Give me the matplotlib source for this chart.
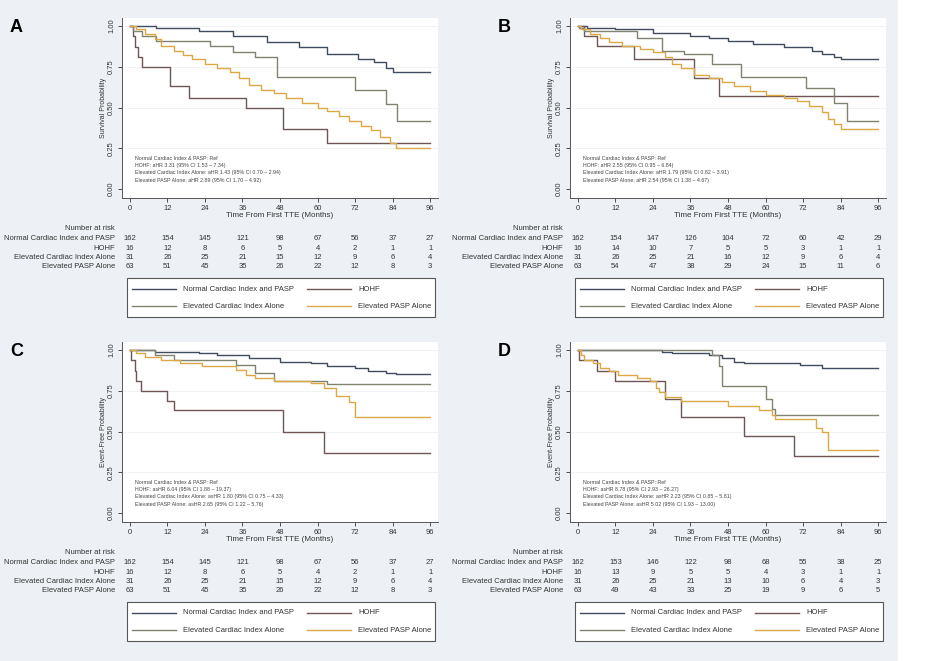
import numpy as np
import matplotlib.pyplot as plt
from matplotlib.lines import Line2D
from matplotlib.patches import Rectangle
from matplotlib.transforms import blended_transform_factory

plt.rcParams['font.family'] = ['Liberation Sans', 'DejaVu Sans']

W, H = 925, 661

groups = ["Normal Cardiac Index and PASP", "HOHF", "Elevated Cardiac Index Alone", "Elevated PASP Alone"]
colors = ["#3f4b5e", "#6f5656", "#80836f", "#dba843"]
times = [0, 12, 24, 36, 48, 60, 72, 84, 96]

# step curves: (time, probability) change points
curves_A = [
    [(0, 1), (8.5, .99), (22, .97), (33, .94), (44, .90), (54, .87), (63, .83), (73, .80), (78, .78), (82, .74), (84, .72), (96, .72)],
    [(0, 1), (1, .94), (1.5, .87), (2.7, .81), (4, .75), (13, .63), (19, .56), (37, .50), (49, .37), (63, .28), (96, .28)],
    [(0, 1), (1, .97), (4, .94), (8.5, .91), (25.5, .88), (33, .84), (40, .81), (47, .69), (72, .61), (82, .52), (85.5, .42), (96, .42)],
    [(0, 1), (2, .98), (5, .95), (8, .92), (10, .88), (14, .85), (17, .82), (20, .80), (24, .77), (28, .74), (32, .72), (35, .68),
     (38, .64), (42, .61), (46, .59), (50, .56), (55, .53), (60, .50), (63, .48), (67, .45), (70, .42), (74, .39), (77, .36),
     (80, .32), (83, .28), (85, .25), (96, .25)],
]
curves_B = [
    [(0, 1), (3, .99), (12, .98), (24, .96), (36, .94), (42, .93), (48, .91), (56, .89), (66, .87), (75, .85), (78, .83), (82, .81), (84, .80), (96, .80)],
    [(0, 1), (2, .94), (6, .88), (18, .80), (37, .68), (45, .57), (96, .57)],
    [(0, 1), (0.5, .99), (2, .97), (19, .93), (27, .85), (34, .83), (43, .77), (52, .69), (73, .62), (82, .53), (86, .42), (96, .42)],
    [(0, 1), (1, .98), (4, .95), (7, .93), (10, .90), (14, .88), (20, .86), (24, .84), (28, .81), (30, .77), (33, .74), (37, .70),
     (42, .68), (46, .66), (50, .63), (55, .60), (60, .58), (66, .56), (70, .54), (74, .51), (78, .47), (80, .43), (82, .40),
     (84, .37), (96, .37)],
]
curves_C = [
    [(0, 1), (8, .99), (22, .98), (28, .97), (38, .95), (48, .93), (58, .92), (63, .90), (72, .89), (76, .87), (82, .86), (85, .855), (96, .855)],
    [(0, 1), (0.5, .94), (1.5, .87), (2, .81), (3.5, .75), (12, .69), (14, .63), (49, .50), (62, .37), (96, .37)],
    [(0, 1), (8, .97), (14, .94), (34, .91), (40, .86), (46, .81), (63, .79), (96, .79)],
    [(0, 1), (2, .98), (5, .96), (10, .94), (16, .92), (23, .90), (34, .88), (37, .85), (40, .83), (46, .81), (58, .80), (62, .77),
     (66, .72), (70, .68), (72, .59), (96, .59)],
]
curves_D = [
    [(0, 1), (27, .99), (30, .98), (42, .97), (46, .95), (50, .93), (53, .92), (71, .91), (78, .89), (96, .89)],
    [(0, 1), (0.5, .94), (6, .87), (12, .81), (28, .70), (33, .59), (53, .47), (69, .35), (96, .35)],
    [(0, 1), (43, .97), (45, .90), (46, .78), (60, .70), (62, .64), (63, .60), (96, .60)],
    [(0, 1), (1, .97), (2, .94), (5, .92), (7, .89), (10, .87), (13, .85), (19, .83), (23, .81), (25, .77), (26, .74), (28, .71),
     (33, .69), (48, .66), (58, .63), (62, .60), (63, .58), (76, .52), (78, .50), (80, .39), (96, .39)],
]

risk_A = [[162, 154, 145, 121, 98, 67, 56, 37, 27], [16, 12, 8, 6, 5, 4, 2, 1, 1],
          [31, 26, 25, 21, 15, 12, 9, 6, 4], [63, 51, 45, 35, 26, 22, 12, 8, 3]]
risk_B = [[162, 154, 147, 126, 104, 72, 60, 42, 29], [16, 14, 10, 7, 5, 5, 3, 1, 1],
          [31, 26, 25, 21, 16, 12, 9, 6, 4], [63, 54, 47, 38, 29, 24, 15, 11, 6]]
risk_C = risk_A
risk_D = [[162, 153, 146, 122, 98, 68, 55, 38, 25], [16, 13, 9, 5, 5, 4, 3, 1, 1],
          [31, 26, 25, 21, 13, 10, 6, 4, 3], [63, 49, 43, 33, 25, 19, 9, 6, 5]]

notes_A = ["Normal Cardiac Index & PASP: Ref", "HOHF: aHR 3.31 (95% CI 1.53 – 7.34)",
           "Elevated Cardiac Index Alone: aHR 1.43 (95% CI 0.70 – 2.94)", "Elevated PASP Alone: aHR 2.89 (95% CI 1.70 – 4.92)"]
notes_B = ["Normal Cardiac Index & PASP: Ref", "HOHF: aHR 2.55 (95% CI 0.95 – 6.84)",
           "Elevated Cardiac Index Alone: aHR 1.79 (95% CI 0.82 – 3.91)", "Elevated PASP Alone: aHR 2.54 (95% CI 1.38 – 4.67)"]
notes_C = ["Normal Cardiac Index & PASP: Ref", "HOHF: asHR 6.04 (95% CI 1.88 – 19.37)",
           "Elevated Cardiac Index Alone: asHR 1.80 (95% CI 0.75 – 4.33)", "Elevated PASP Alone: asHR 2.65 (95% CI 1.22 – 5.76)"]
notes_D = ["Normal Cardiac Index & PASP: Ref", "HOHF: asHR 8.78 (95% CI 2.93 – 26.27)",
           "Elevated Cardiac Index Alone: asHR 2.23 (95% CI 0.85 – 5.81)", "Elevated PASP Alone: asHR 5.02 (95% CI 1.93 – 13.00)"]

fig = plt.figure(figsize=(W / 100, H / 100), dpi=100)
fig.patch.set_facecolor("#edf1f5")
fig.patches.append(Rectangle((898 / W, 0), 1, 1, transform=fig.transFigure, color="white", zorder=-1))


def fy(y):
    return 1 - y / H


def panel(letter, x0, y0, curves, risk, notes, ylabel, letter_x):
    # axes box in pixel coords
    ax = fig.add_axes([x0 / W, fy(y0 + 180), 316 / W, 180 / H])
    ax.set_facecolor("white")
    for i, c in enumerate(curves):
        t = [p[0] for p in c]
        s = [p[1] for p in c]
        ax.step(t, s, where="post", color=colors[i], lw=1.0)
    ax.set_xlim(-2.5, 98.5)
    ax.set_ylim(-0.055, 1.05)
    for g in [0.25, 0.5, 0.75, 1.0]:
        ax.axhline(g, color="#eef0f2", lw=0.6, zorder=0)
    ax.set_xticks(times)
    ax.set_yticks([0, .25, .5, .75, 1.0])
    ax.set_yticklabels(["0.00", "0.25", "0.50", "0.75", "1.00"], rotation=90, va="center")
    ax.tick_params(labelsize=5.5, length=3, width=0.6, colors="#333333", pad=2)
    for sp in ["top", "right"]:
        ax.spines[sp].set_visible(False)
    for sp in ["left", "bottom"]:
        ax.spines[sp].set_color("#555555")
        ax.spines[sp].set_linewidth(0.7)
    ax.set_xlabel("Time From First TTE (Months)", fontsize=5.8, labelpad=0, color="#333333")
    ax.set_ylabel(ylabel, fontsize=5, labelpad=1, color="#333333")
    for k, n in enumerate(notes):
        ax.text(1.5, 0.19 - k * 0.045, n, fontsize=3.8, color="#444444", va="center")
    fig.text(letter_x / W, fy(y0 + 10), letter, fontsize=13, fontweight="bold", va="center")

    tr = blended_transform_factory(ax.transData, fig.transFigure)
    base = y0 + 210
    fig.text((x0 - 7) / W, fy(base), "Number at risk", fontsize=5.5, ha="right", va="center", color="#333333")
    for r in range(4):
        yy = fy(base + 11 + r * 9.3)
        fig.text((x0 - 7) / W, yy, groups[r], fontsize=5.5, ha="right", va="center", color="#333333")
        for t, v in zip(times, risk[r]):
            ax.text(t, yy, str(v), transform=tr, fontsize=5.5, ha="center", va="center", color="#333333")

    # legend box
    lx, ly = x0 + 5, y0 + 260
    fig.patches.append(Rectangle((lx / W, fy(ly + 39)), 308 / W, 39 / H, transform=fig.transFigure,
                                 facecolor="white", edgecolor="#555555", lw=0.8))
    for i, g in enumerate(groups):
        cx = lx + (5 if i % 2 == 0 else 180)
        cy = ly + (11 if i < 2 else 28)
        fig.lines.append(Line2D([cx / W, (cx + 44) / W], [fy(cy), fy(cy)], transform=fig.transFigure,
                                color=colors[i], lw=1.0))
        fig.text((cx + 51) / W, fy(cy), g, fontsize=5.5, va="center", color="#333333")
    return ax


panel("A", 122, 18, curves_A, risk_A, notes_A, "Survival Probability", 10)
panel("B", 570, 18, curves_B, risk_B, notes_B, "Survival Probability", 498)
panel("C", 122, 342, curves_C, risk_C, notes_C, "Event-Free Probability", 10)
panel("D", 570, 342, curves_D, risk_D, notes_D, "Event-Free Probability", 498)

fig.savefig("out.png", dpi=100, facecolor=fig.get_facecolor())
